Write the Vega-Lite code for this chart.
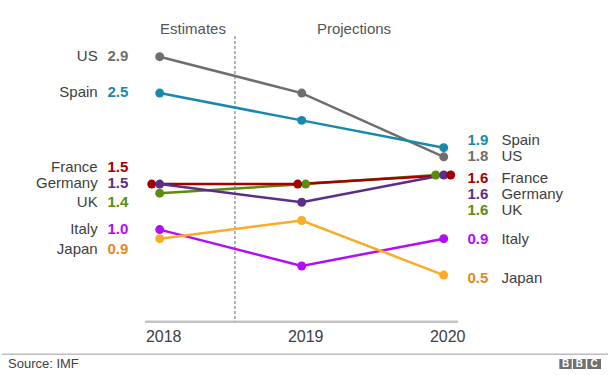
{
  "$schema": "https://vega.github.io/schema/vega-lite/v6.json",
  "width": 611,
  "height": 375,
  "padding": 0,
  "autosize": {"type": "none"},
  "background": "white",
  "config": {"view": {"stroke": null}, "font": "Liberation Sans"},
  "resolve": {"scale": {"color": "independent"}},
  "datasets": {
    "gdp": [
      {"country": "US", "year": 2018, "growth": 2.9},
      {"country": "US", "year": 2019, "growth": 2.5},
      {"country": "US", "year": 2020, "growth": 1.8},
      {"country": "Spain", "year": 2018, "growth": 2.5},
      {"country": "Spain", "year": 2019, "growth": 2.2},
      {"country": "Spain", "year": 2020, "growth": 1.9},
      {"country": "Italy", "year": 2018, "growth": 1.0},
      {"country": "Italy", "year": 2019, "growth": 0.6},
      {"country": "Italy", "year": 2020, "growth": 0.9},
      {"country": "Japan", "year": 2018, "growth": 0.9},
      {"country": "Japan", "year": 2019, "growth": 1.1},
      {"country": "Japan", "year": 2020, "growth": 0.5},
      {"country": "UK", "year": 2018, "growth": 1.4},
      {"country": "UK", "year": 2019, "growth": 1.5},
      {"country": "UK", "year": 2020, "growth": 1.6},
      {"country": "France", "year": 2018, "growth": 1.5},
      {"country": "France", "year": 2019, "growth": 1.5},
      {"country": "Germany", "year": 2018, "growth": 1.5},
      {"country": "Germany", "year": 2019, "growth": 1.3},
      {"country": "Germany", "year": 2020, "growth": 1.6},
      {"country": "France", "year": 2020, "growth": 1.6}
    ]
  },
  "layer": [
    {
      "data": {"values": [{}]},
      "mark": {"type": "rule", "color": "#c4c4c4", "strokeWidth": 2.5},
      "encoding": {
        "x": {"datum": 2017.896, "type": "quantitative", "scale": {"domain": [2016.8754, 2021.178], "nice": false, "zero": false}, "axis": null},
        "x2": {"datum": 2020.1},
        "y": {"datum": -0.012, "type": "quantitative", "scale": {"domain": [-0.598, 3.523], "nice": false, "zero": false}, "axis": null}
      }
    },
    {
      "data": {"values": [{}]},
      "mark": {"type": "rule", "color": "#666666", "strokeWidth": 1, "strokeDash": [3, 2]},
      "encoding": {
        "x": {"datum": 2018.53, "type": "quantitative"},
        "y": {"datum": 3.127, "type": "quantitative"},
        "y2": {"datum": -0.012}
      }
    },
    {
      "data": {"values": [{}]},
      "mark": {"type": "rule", "color": "#bdbdbd", "strokeWidth": 1.5},
      "encoding": {
        "x": {"datum": 2016.8894, "type": "quantitative"},
        "x2": {"datum": 2021.157},
        "y": {"datum": -0.37, "type": "quantitative"}
      }
    },
    {
      "data": {"values": [{"label": "Estimates", "pos": 2018.2345}, {"label": "Projections", "pos": 2019.3683}]},
      "mark": {"type": "text", "fontSize": 15, "color": "#555555", "align": "center", "baseline": "middle"},
      "encoding": {
        "x": {"field": "pos", "type": "quantitative"},
        "y": {"datum": 3.199, "type": "quantitative"},
        "text": {"field": "label"}
      }
    },
    {
      "data": {"values": [{"label": "Source: IMF"}]},
      "mark": {"type": "text", "fontSize": 13, "color": "#404040", "align": "left", "baseline": "middle"},
      "encoding": {
        "x": {"datum": 2016.9317, "type": "quantitative"},
        "y": {"datum": -0.482, "type": "quantitative"},
        "text": {"field": "label"}
      }
    },
    {
      "data": {"values": [{"a": 2020.8141, "b": 2020.9014}, {"a": 2020.9106, "b": 2021.0}, {"a": 2021.0113, "b": 2021.1077}]},
      "mark": {"type": "rect", "color": "#707070"},
      "encoding": {
        "x": {"field": "a", "type": "quantitative"},
        "x2": {"field": "b"},
        "y": {"datum": -0.422, "type": "quantitative"},
        "y2": {"datum": -0.532}
      }
    },
    {
      "data": {"values": [{"letter": "B", "c": 2020.8578}, {"letter": "B", "c": 2020.9553}, {"letter": "C", "c": 2021.0595}]},
      "mark": {"type": "text", "fontSize": 10, "fontWeight": "bold", "color": "white", "align": "center", "baseline": "middle"},
      "encoding": {
        "x": {"field": "c", "type": "quantitative"},
        "y": {"datum": -0.477, "type": "quantitative"},
        "text": {"field": "letter"}
      }
    },
    {
      "data": {"name": "gdp"},
      "transform": [{"filter": "datum.country === 'US'"}],
      "mark": {"type": "text", "fontSize": 16, "color": "#404040", "align": "center", "baseline": "middle", "dx": 4},
      "encoding": {
        "x": {"field": "year", "type": "quantitative"},
        "y": {"datum": -0.18, "type": "quantitative"},
        "text": {"field": "year", "type": "nominal"}
      }
    },
    {
      "data": {"name": "gdp"},
      "mark": {"type": "line", "strokeWidth": 2.5, "xOffset": {"expr": "datum.country==='France' ? (datum.year===2018 ? -8 : datum.year===2019 ? -4 : 7) : datum.country==='UK' ? (datum.year===2019 ? 4 : datum.year===2020 ? -8 : 0) : 0"}},
      "encoding": {
        "x": {"field": "year", "type": "quantitative"},
        "y": {"field": "growth", "type": "quantitative"},
        "color": {"field": "country", "type": "nominal", "legend": null,
          "scale": {"domain": ["US", "Spain", "France", "Germany", "UK", "Italy", "Japan"],
                    "range": ["#6e6e6e", "#1a88ae", "#a30000", "#5a2e87", "#5b8c0b", "#b20cf8", "#fbab26"]}},
        "order": {"field": "year", "type": "quantitative"}
      }
    },
    {
      "data": {"name": "gdp"},
      "mark": {"type": "circle", "size": 80, "opacity": 1, "xOffset": {"expr": "datum.country==='France' ? (datum.year===2018 ? -8 : datum.year===2019 ? -4 : 7) : datum.country==='UK' ? (datum.year===2019 ? 4 : datum.year===2020 ? -8 : 0) : 0"}},
      "encoding": {
        "x": {"field": "year", "type": "quantitative"},
        "y": {"field": "growth", "type": "quantitative"},
        "color": {"field": "country", "type": "nominal", "legend": null,
          "scale": {"domain": ["US", "Spain", "France", "Germany", "UK", "Italy", "Japan"],
                    "range": ["#6e6e6e", "#1a88ae", "#a30000", "#5a2e87", "#5b8c0b", "#b20cf8", "#fbab26"]}}
      }
    },
    {
      "data": {"name": "gdp"},
      "transform": [{"filter": "datum.year === 2018"}],
      "mark": {"type": "text", "fontSize": 15, "color": "#404040", "align": "right", "baseline": "middle", "dx": -62,
        "dy": {"expr": "datum.country==='France' ? -17.5 : datum.country==='Germany' ? -1 : datum.country==='UK' ? 9 : datum.country==='Japan' ? 10 : -1"}},
      "encoding": {
        "x": {"field": "year", "type": "quantitative"},
        "y": {"field": "growth", "type": "quantitative"},
        "text": {"field": "country"}
      }
    },
    {
      "data": {"name": "gdp"},
      "transform": [{"filter": "datum.year === 2018"}],
      "mark": {"type": "text", "fontSize": 15, "fontWeight": "bold", "align": "right", "baseline": "middle", "dx": -31.4,
        "dy": {"expr": "datum.country==='France' ? -17.5 : datum.country==='Germany' ? -1 : datum.country==='UK' ? 9 : datum.country==='Japan' ? 10 : -1"}},
      "encoding": {
        "x": {"field": "year", "type": "quantitative"},
        "y": {"field": "growth", "type": "quantitative"},
        "text": {"field": "growth", "type": "quantitative", "format": ".1f"},
        "color": {"field": "country", "type": "nominal", "legend": null,
          "scale": {"domain": ["US", "Spain", "France", "Germany", "UK", "Italy", "Japan"],
                    "range": ["#6e6e6e", "#1a88ae", "#a30000", "#5a2e87", "#5b8c0b", "#b20cf8", "#e3891c"]}}
      }
    },
    {
      "data": {"name": "gdp"},
      "transform": [{"filter": "datum.year === 2020"}],
      "mark": {"type": "text", "fontSize": 15, "fontWeight": "bold", "align": "left", "baseline": "middle", "dx": 23.7,
        "dy": {"expr": "datum.country==='Spain' ? -8 : datum.country==='US' ? -0.5 : datum.country==='France' ? 3 : datum.country==='Germany' ? 19 : datum.country==='UK' ? 35.5 : datum.country==='Japan' ? 3 : 0"}},
      "encoding": {
        "x": {"field": "year", "type": "quantitative"},
        "y": {"field": "growth", "type": "quantitative"},
        "text": {"field": "growth", "type": "quantitative", "format": ".1f"},
        "color": {"field": "country", "type": "nominal", "legend": null,
          "scale": {"domain": ["US", "Spain", "France", "Germany", "UK", "Italy", "Japan"],
                    "range": ["#6e6e6e", "#1a88ae", "#a30000", "#5a2e87", "#5b8c0b", "#b20cf8", "#e3891c"]}}
      }
    },
    {
      "data": {"name": "gdp"},
      "transform": [{"filter": "datum.year === 2020"}],
      "mark": {"type": "text", "fontSize": 15, "color": "#404040", "align": "left", "baseline": "middle", "dx": 57.7,
        "dy": {"expr": "datum.country==='Spain' ? -8 : datum.country==='US' ? -0.5 : datum.country==='France' ? 3 : datum.country==='Germany' ? 19 : datum.country==='UK' ? 35.5 : datum.country==='Japan' ? 3 : 0"}},
      "encoding": {
        "x": {"field": "year", "type": "quantitative"},
        "y": {"field": "growth", "type": "quantitative"},
        "text": {"field": "country"}
      }
    }
  ]
}
